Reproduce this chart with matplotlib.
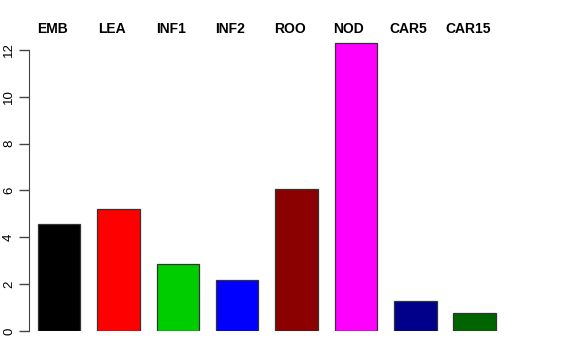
import matplotlib
matplotlib.use("Agg")
import matplotlib.pyplot as plt

categories = ["EMB", "LEA", "INF1", "INF2", "ROO", "NOD", "CAR5", "CAR15"]
values = [4.57, 5.21, 2.88, 2.18, 6.07, 12.32, 1.27, 0.75]
colors = ["#000000", "#FF0000", "#00CD00", "#0000FF", "#8B0000", "#FF00FF", "#00008B", "#006400"]
yticks = [0, 2, 4, 6, 8, 10, 12]

plt.rcParams['font.family'] = ['Liberation Sans', 'DejaVu Sans']

W, H = 576, 360
fig = plt.figure(figsize=(5.76, 3.6), dpi=100)
left, right, top, bottom = 29, 576, 20, 331
ax = fig.add_axes([left / W, 1 - bottom / H, (right - left) / W, (bottom - top) / H])

pxu_x = 42.4
a = 21.0
space = 0.4
lefts = [space + (1 + space) * i for i in range(len(categories))]
centers = [l + 0.5 for l in lefts]
ax.bar(centers, values, width=1.0, color=colors, edgecolor="#333333", linewidth=0.9)

ax.set_xlim((left - a) / pxu_x, (right - a) / pxu_x)
pxu_y = (331 - 50) / 12.0
ax.set_ylim(0, (bottom - top) / pxu_y)

for s in ["top", "right", "bottom"]:
    ax.spines[s].set_visible(False)
ax.spines["left"].set_bounds(0, 12)
ax.spines["left"].set_color("#444444")
ax.set_xticks([])
ax.set_yticks(yticks)
ax.set_yticklabels([str(t) for t in yticks], rotation=90, va="center", fontsize=9.5)
ax.tick_params(axis="y", length=7, width=1, color="#444444", pad=3)

for c, lab in zip(centers, categories):
    fig.text((a + c * pxu_x - 7) / W, 1 - 29 / H, lab, ha="center", va="center",
             fontsize=10, fontweight="bold")

fig.savefig("out.png", dpi=100)
